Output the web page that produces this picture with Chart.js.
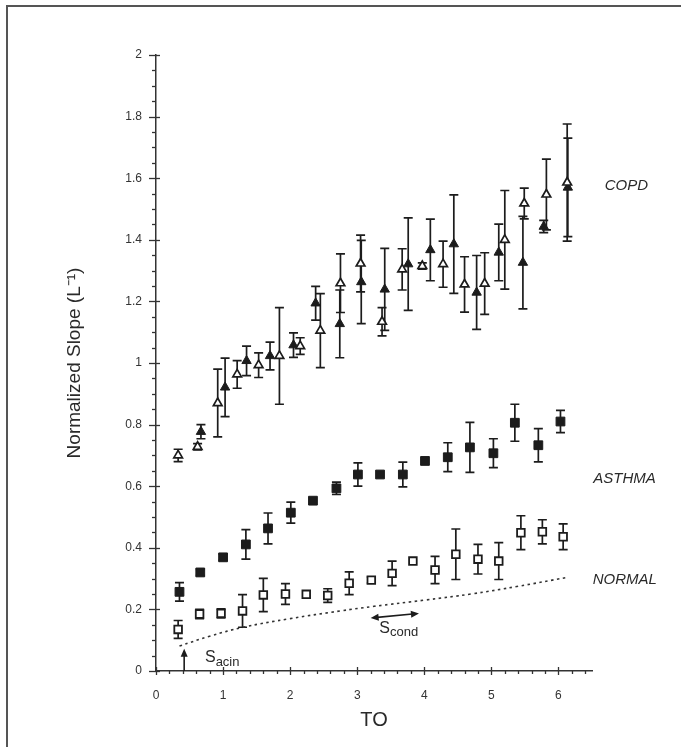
<!DOCTYPE html>
<html><head><meta charset="utf-8">
<script src="https://cdn.jsdelivr.net/npm/chart.js@4.4.1/dist/chart.umd.min.js"></script>
<style>
html,body{margin:0;padding:0;background:#fff}
#wrap{position:relative;width:681px;height:747px;overflow:hidden}
#frame{position:absolute;left:6px;top:5px;width:700px;height:760px;border-top:2px solid #555;border-left:2px solid #555}
canvas{position:absolute;left:0;top:0}
</style>
</head><body>
<div id="wrap"><div id="frame"></div><canvas id="c" width="681" height="747"></canvas></div>
<script>
// ---- Data ----
const copdOpenX   = [0.33, 0.62, 0.92, 1.21, 1.53, 1.84, 2.15, 2.45, 2.75, 3.05, 3.37, 3.67, 3.97, 4.28, 4.60, 4.90, 5.20, 5.49, 5.82, 6.13];
const copdOpenY   = [0.700, 0.728, 0.870, 0.963, 0.993, 1.023, 1.055, 1.105, 1.259, 1.323, 1.134, 1.304, 1.315, 1.321, 1.255, 1.258, 1.400, 1.518, 1.547, 1.586];
const copdOpenErr = [0.020, 0.010, 0.110, 0.045, 0.040, 0.157, 0.027, 0.120, 0.095, 0.092, 0.046, 0.067, 0.010, 0.075, 0.090, 0.100, 0.160, 0.050, 0.115, 0.190];

const copdFilledX   = [0.67, 1.03, 1.35, 1.70, 2.05, 2.38, 2.74, 3.06, 3.41, 3.76, 4.09, 4.44, 4.78, 5.11, 5.47, 5.78, 6.14];
const copdFilledY   = [0.777, 0.921, 1.007, 1.023, 1.058, 1.194, 1.127, 1.263, 1.239, 1.321, 1.367, 1.386, 1.229, 1.359, 1.326, 1.443, 1.570];
const copdFilledErr = [0.023, 0.095, 0.048, 0.045, 0.040, 0.055, 0.110, 0.135, 0.133, 0.150, 0.100, 0.160, 0.120, 0.092, 0.150, 0.020, 0.160];

const asthmaX   = [0.35, 0.66, 1.00, 1.34, 1.67, 2.01, 2.34, 2.69, 3.01, 3.34, 3.68, 4.01, 4.35, 4.68, 5.03, 5.35, 5.70, 6.03];
const asthmaY   = [0.257, 0.320, 0.369, 0.411, 0.463, 0.514, 0.553, 0.593, 0.638, 0.638, 0.638, 0.682, 0.694, 0.726, 0.707, 0.806, 0.733, 0.810];
const asthmaErr = [0.030, 0.010, 0.010, 0.048, 0.050, 0.034, 0.000, 0.020, 0.038, 0.000, 0.040, 0.000, 0.047, 0.081, 0.047, 0.060, 0.054, 0.036];

const normalX   = [0.33, 0.65, 0.97, 1.29, 1.60, 1.93, 2.24, 2.56, 2.88, 3.21, 3.52, 3.83, 4.16, 4.47, 4.80, 5.11, 5.44, 5.76, 6.07];
const normalY   = [0.135, 0.185, 0.187, 0.195, 0.247, 0.250, 0.249, 0.245, 0.285, 0.295, 0.317, 0.357, 0.328, 0.379, 0.363, 0.357, 0.449, 0.452, 0.436];
const normalErr = [0.029, 0.015, 0.015, 0.053, 0.054, 0.034, 0.000, 0.022, 0.037, 0.010, 0.040, 0.000, 0.044, 0.082, 0.048, 0.060, 0.055, 0.039, 0.042];

const dottedX = [0.35, 0.80, 1.30, 2.00, 2.75, 3.25, 4.00, 4.70, 5.40, 6.13];
const dottedY = [0.081, 0.113, 0.142, 0.170, 0.195, 0.210, 0.230, 0.250, 0.275, 0.304];

const xTickLabels = ['0', '1', '2', '3', '4', '5', '6'];
const groupLabels = ['COPD', 'ASTHMA', 'NORMAL'];
const groupLabelAt = [[6.69, 1.575], [6.52, 0.623], [6.51, 0.295]];

const pts = (xs, ys) => xs.map((x, i) => ({x: x, y: ys[i]}));
const INK = '#1c1c1c';

const errorBarPlugin = {
  id: 'errorBars',
  beforeDatasetsDraw(chart) {
    const {ctx} = chart; const ys = chart.scales.y;
    ctx.save();
    ctx.strokeStyle = INK; ctx.lineWidth = 1.7;
    chart.data.datasets.forEach((ds, i) => {
      if (!ds.errors) return;
      const meta = chart.getDatasetMeta(i);
      meta.data.forEach((pt, j) => {
        const e = ds.errors[j]; if (!e) return;
        const v = ds.data[j].y;
        const t = ys.getPixelForValue(v + e), b = ys.getPixelForValue(v - e);
        ctx.beginPath();
        ctx.moveTo(pt.x, t); ctx.lineTo(pt.x, b);
        ctx.moveTo(pt.x - 4.5, t); ctx.lineTo(pt.x + 4.5, t);
        ctx.moveTo(pt.x - 4.5, b); ctx.lineTo(pt.x + 4.5, b);
        ctx.stroke();
      });
    });
    ctx.restore();
  }
};

const axisTickPlugin = {
  id: 'axisTicks',
  afterDraw(chart) {
    const {ctx} = chart; const xs = chart.scales.x, ys = chart.scales.y;
    const yAxis = ys.getPixelForValue(0), xAxis = xs.getPixelForValue(0);
    ctx.save();
    ctx.strokeStyle = '#333'; ctx.lineWidth = 1.3;
    for (let i = 0; i <= 32; i++) {
      const px = Math.round(xs.getPixelForValue(i * 0.2)) + 0.5;
      const major = i % 5 === 0;
      ctx.beginPath();
      ctx.moveTo(px, major ? yAxis - 4 : yAxis);
      ctx.lineTo(px, yAxis + (major ? 4 : 3));
      ctx.stroke();
    }
    for (let i = 0; i <= 40; i++) {
      const py = Math.round(ys.getPixelForValue(i * 0.05)) + 0.5;
      const major = i % 4 === 0;
      ctx.beginPath();
      ctx.moveTo(xAxis - (major ? 7 : 4), py);
      ctx.lineTo(xAxis + (major ? 4 : 0), py);
      ctx.stroke();
    }
    ctx.restore();
  }
};

function arrowHead(ctx, x, y, ang) {
  ctx.save(); ctx.translate(x, y); ctx.rotate(ang);
  ctx.beginPath(); ctx.moveTo(0, 0); ctx.lineTo(-8, -3.5); ctx.lineTo(-8, 3.5); ctx.closePath(); ctx.fill();
  ctx.restore();
}

const annotationPlugin = {
  id: 'annotations',
  afterDraw(chart) {
    const {ctx} = chart; const xs = chart.scales.x, ys = chart.scales.y;
    const X = v => xs.getPixelForValue(v), Y = v => ys.getPixelForValue(v);
    ctx.save();
    ctx.fillStyle = '#2a2a2a';
    ctx.font = 'italic 15px "Liberation Sans", Arial, sans-serif';
    ctx.textBaseline = 'middle'; ctx.textAlign = 'left';
    groupLabels.forEach((t, i) => ctx.fillText(t, X(groupLabelAt[i][0]), Y(groupLabelAt[i][1])));
    // S_acin arrow
    ctx.strokeStyle = INK; ctx.fillStyle = INK; ctx.lineWidth = 1.6;
    const ax = X(0.42);
    ctx.beginPath(); ctx.moveTo(ax, Y(0)); ctx.lineTo(ax, Y(0.065)); ctx.stroke();
    arrowHead(ctx, ax, Y(0.072), -Math.PI / 2);
    // S_cond double arrow
    const x1 = X(3.2), y1 = Y(0.172), x2 = X(3.92), y2 = Y(0.187);
    const ang = Math.atan2(y2 - y1, x2 - x1);
    ctx.beginPath(); ctx.moveTo(x1 + 4 * Math.cos(ang), y1 + 4 * Math.sin(ang)); ctx.lineTo(x2 - 4 * Math.cos(ang), y2 - 4 * Math.sin(ang)); ctx.stroke();
    arrowHead(ctx, x2, y2, ang);
    arrowHead(ctx, x1, y1, ang + Math.PI);
    // labels
    ctx.fillStyle = '#2a2a2a'; ctx.textBaseline = 'alphabetic';
    ctx.font = '16px "Liberation Sans", Arial, sans-serif';
    ctx.fillText('S', X(0.73), Y(0.028));
    let w = ctx.measureText('S').width;
    ctx.font = '13px "Liberation Sans", Arial, sans-serif';
    ctx.fillText('acin', X(0.73) + w, Y(0.017));
    ctx.font = '16px "Liberation Sans", Arial, sans-serif';
    ctx.fillText('S', X(3.33), Y(0.125));
    w = ctx.measureText('S').width;
    ctx.font = '13px "Liberation Sans", Arial, sans-serif';
    ctx.fillText('cond', X(3.33) + w, Y(0.114));
    ctx.restore();
  }
};

const FONT = '"Liberation Sans", Arial, sans-serif';

new Chart(document.getElementById('c'), {
  type: 'scatter',
  data: {
    datasets: [
      {label: 'Sacin/Scond model', type: 'line', data: pts(dottedX, dottedY), borderColor: '#333', borderWidth: 1.6,
       borderDash: [2.5, 3.5], pointRadius: 0, tension: 0.4, fill: false},
      {label: 'NORMAL', data: pts(normalX, normalY), errors: normalErr, pointStyle: 'rect', radius: 5.4,
       backgroundColor: '#fff', borderColor: INK, borderWidth: 1.8},
      {label: 'ASTHMA', data: pts(asthmaX, asthmaY), errors: asthmaErr, pointStyle: 'rect', radius: 6.2,
       backgroundColor: INK, borderColor: INK, borderWidth: 1},
      {label: 'COPD open', data: pts(copdOpenX, copdOpenY), errors: copdOpenErr, pointStyle: 'triangle', radius: 5,
       backgroundColor: '#fff', borderColor: INK, borderWidth: 1.7},
      {label: 'COPD filled', data: pts(copdFilledX, copdFilledY), errors: copdFilledErr, pointStyle: 'triangle', radius: 5.4,
       backgroundColor: INK, borderColor: INK, borderWidth: 1}
    ]
  },
  options: {
    responsive: false, animation: false, devicePixelRatio: 1,
    layout: {padding: {left: 0, top: 55, right: 89, bottom: 0}},
    plugins: {legend: {display: false}, tooltip: {enabled: false}},
    scales: {
      x: {
        type: 'linear', min: 0, max: 6.5,
        grid: {display: false, drawTicks: false},
        border: {display: true, color: '#333', width: 1.5},
        ticks: {stepSize: 1, includeBounds: false, padding: 17, color: '#333', font: {family: FONT, size: 12},
                callback: (v) => xTickLabels[Math.round(v)]},
        title: {display: true, text: 'TO', color: '#2a2a2a', font: {family: FONT, size: 20}, padding: {top: 0, bottom: 15}},
        afterFit: (s) => { s.height = 76; }
      },
      y: {
        type: 'linear', min: 0, max: 2,
        grid: {display: false, drawTicks: false},
        border: {display: true, color: '#333', width: 1.5},
        ticks: {stepSize: 0.2, padding: 14, color: '#333', font: {family: FONT, size: 12},
                callback: (v) => String(Math.round(v * 10) / 10)},
        title: {display: true, text: 'Normalized Slope (L\u207B\u00B9)', color: '#2a2a2a', font: {family: FONT, size: 19}, padding: {top: 63, bottom: 0}},
        afterFit: (s) => { s.width = 156; }
      }
    }
  },
  plugins: [errorBarPlugin, axisTickPlugin, annotationPlugin]
});
</script>
</body></html>
